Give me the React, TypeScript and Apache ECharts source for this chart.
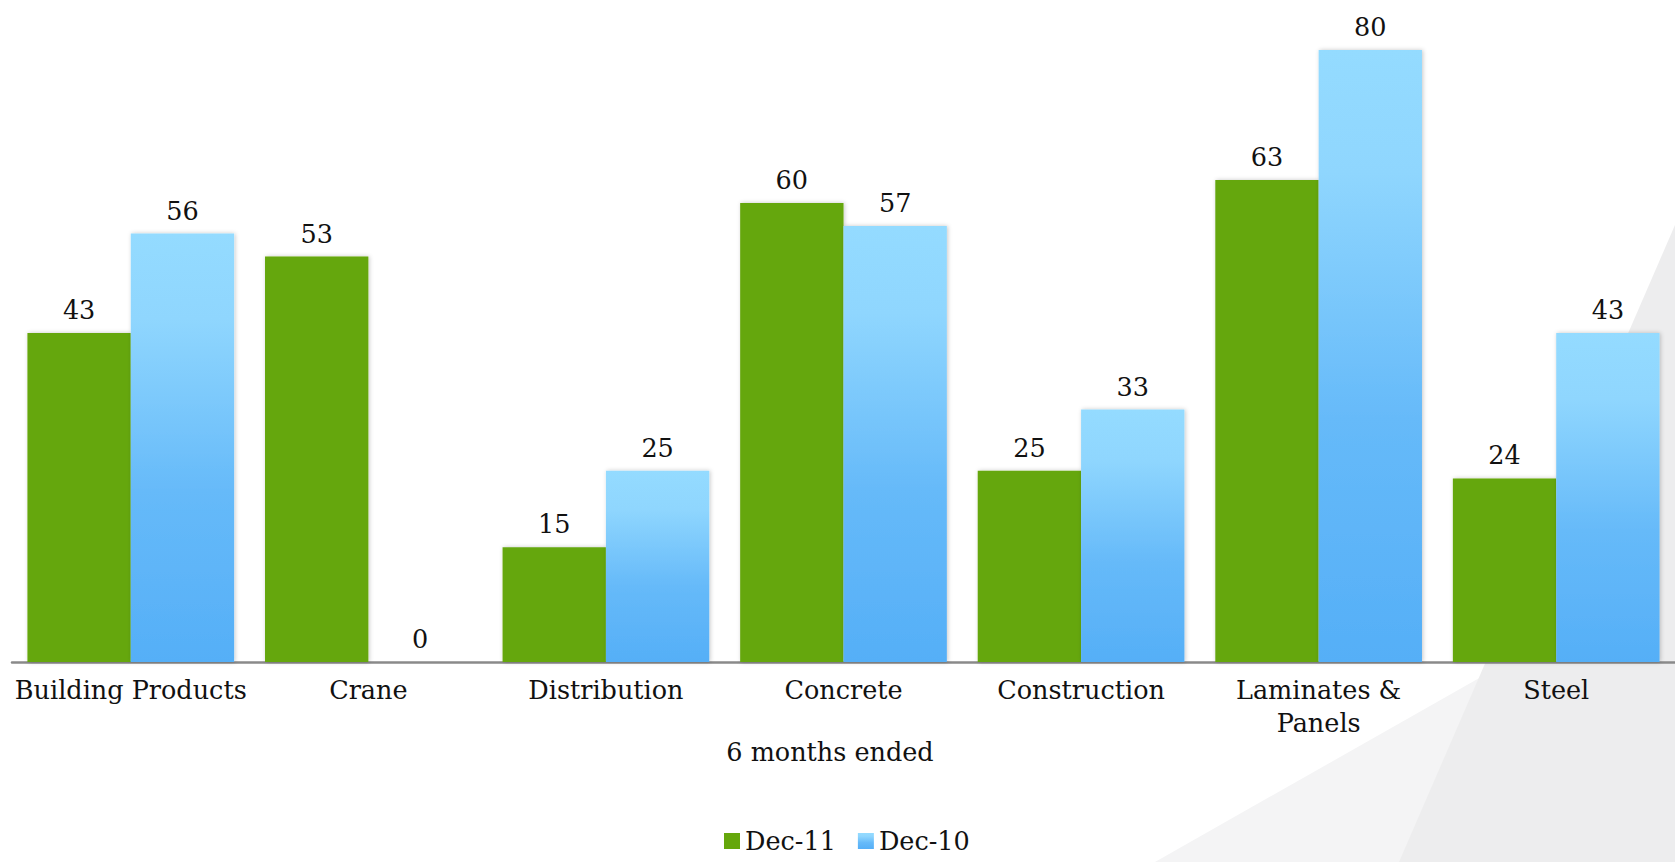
import React, { useEffect, useRef } from "react";
import * as echarts from "echarts";

const categories = ["Building Products", "Crane", "Distribution", "Concrete", "Construction", "Laminates &\nPanels", "Steel"];
const dec11 = [43, 53, 15, 60, 25, 63, 24];
const dec10 = [56, 0, 25, 57, 33, 80, 43];
const seriesNames = ["Dec-11", "Dec-10"];
const axisName = "6 months ended";

const FONT = "Georgia, 'DejaVu Serif', serif";
const FS = 25.5;

export default function App() {
  const ref = useRef<HTMLDivElement>(null);
  useEffect(() => {
    if (!ref.current) return;
    const chart = echarts.init(ref.current, undefined, { renderer: "svg" });
    const blue = new echarts.graphic.LinearGradient(0, 0, 0, 1, [
      { offset: 0, color: "#94DBFF" },
      { offset: 0.2, color: "#8FD6FE" },
      { offset: 0.6, color: "#66BAF9" },
      { offset: 1, color: "#55AFF7" },
    ]);
    const label = {
      show: true,
      position: "top",
      distance: 10,
      color: "#111",
      fontFamily: FONT,
      fontSize: FS,
    };
    const shadow = {
      shadowColor: "rgba(0,0,0,0.22)",
      shadowBlur: 4,
      shadowOffsetX: 1,
    };
    chart.setOption({
      animation: false,
      backgroundColor: "#ffffff",
      graphic: [
        {
          type: "polygon",
          z: -10,
          silent: true,
          shape: { points: [[1155, 862], [1675, 567], [1675, 862]] },
          style: { fill: "#f4f4f5" },
        },
        {
          type: "polygon",
          z: -9,
          silent: true,
          shape: { points: [[1399, 862], [1675, 225], [1675, 862]] },
          style: { fill: "#ededee" },
        },
        {
          type: "text",
          x: 830,
          y: 752,
          style: {
            text: axisName,
            fontFamily: FONT,
            fontSize: FS,
            fill: "#111",
            textAlign: "center",
            textVerticalAlign: "middle",
          },
        },
      ],
      legend: {
        top: 826,
        left: 724,
        icon: "rect",
        itemWidth: 16,
        itemHeight: 16,
        itemGap: 22,
        padding: 0,
        data: seriesNames,
        textStyle: { fontFamily: FONT, fontSize: FS, color: "#111", lineHeight: 30 },
      },
      grid: { left: 12, right: 0, top: 50, bottom: 200 },
      xAxis: {
        type: "category",
        data: categories,
        axisLine: { lineStyle: { color: "#8a8a8a", width: 2.5 } },
        axisTick: { show: false },
        axisLabel: {
          interval: 0,
          margin: 11,
          color: "#111",
          fontFamily: FONT,
          fontSize: FS,
          lineHeight: 33,
        },
      },
      yAxis: {
        type: "value",
        min: 0,
        max: 80,
        show: false,
        splitLine: { show: false },
      },
      series: [
        {
          name: seriesNames[0],
          type: "bar",
          data: dec11,
          barGap: "0%",
          barCategoryGap: "13%",
          itemStyle: { color: "#65A70B", ...shadow },
          label,
        },
        {
          name: seriesNames[1],
          type: "bar",
          data: dec10,
          barGap: "0%",
          barCategoryGap: "13%",
          itemStyle: { color: blue, ...shadow },
          label,
        },
      ],
    });
    return () => chart.dispose();
  }, []);
  return (
    <div
      ref={ref}
      style={{ position: "absolute", left: 0, top: 0, width: 1675, height: 862 }}
    />
  );
}
